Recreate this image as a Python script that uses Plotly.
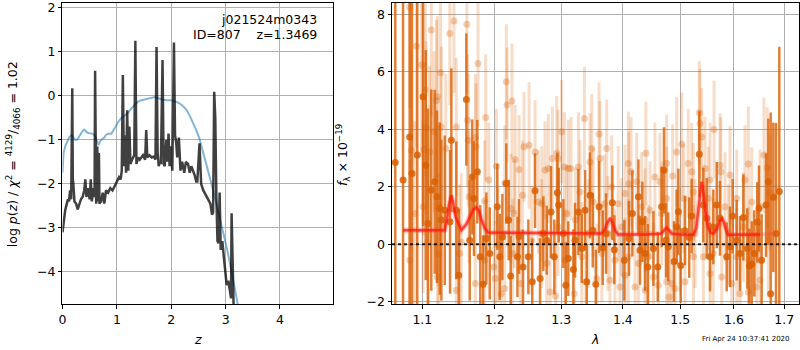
import math
import plotly.graph_objects as go

FONT = "DejaVu Sans"

# ---- left panel: redshift probability ----
z_pz = [0.00, 0.02, 0.05, 0.08, 0.10, 0.12, 0.14, 0.16, 0.17, 0.18, 0.19, 0.20, 0.22, 0.25,
        0.28, 0.31, 0.34, 0.37, 0.40, 0.42, 0.44, 0.47, 0.50, 0.52, 0.54, 0.57, 0.59, 0.60,
        0.61, 0.62, 0.64, 0.65, 0.67, 0.68, 0.71, 0.74, 0.77, 0.80, 0.84, 0.88, 0.92, 0.96,
        1.00, 1.04, 1.07, 1.09, 1.11, 1.13, 1.15, 1.17, 1.19, 1.21, 1.23, 1.25, 1.28, 1.30,
        1.32, 1.34, 1.36, 1.39, 1.42, 1.45, 1.48, 1.52, 1.54, 1.56, 1.60, 1.64, 1.68, 1.71,
        1.73, 1.75, 1.77, 1.79, 1.81, 1.84, 1.86, 1.88, 1.91, 1.93, 1.95, 1.97, 1.99, 2.02,
        2.05, 2.07, 2.09, 2.11, 2.14, 2.17, 2.20, 2.24, 2.27, 2.31, 2.34, 2.37, 2.40, 2.43,
        2.46, 2.48, 2.52, 2.55, 2.59, 2.63, 2.68, 2.72, 2.75, 2.77, 2.79, 2.81, 2.83, 2.85,
        2.87, 2.89, 2.91, 2.94, 2.97, 3.00, 3.02, 3.05, 3.08, 3.10, 3.11, 3.13, 3.16]
logp_pz = [-3.10, -2.85, -2.60, -2.45, -2.35, -2.40, -2.15, -2.35, -1.20, 0.17, -1.90, -2.00,
           -2.40, -2.45, -2.58, -2.45, -2.35, -2.30, -2.15, -1.90, -2.30, -2.10, -2.35, -1.90,
           -2.40, -2.10, -2.30, 0.57, -1.20, -2.45, -1.15, -2.40, -1.30, -2.45, -2.40, -2.20,
           -2.45, -2.15, -2.20, -2.10, -2.15, -2.05, -1.95, -1.85, -1.90, -1.70, 0.47, -1.60,
           -0.90, -1.75, -0.33, -1.70, -0.70, -1.55, -1.45, -1.40, -1.35, 1.25, -1.55, -1.40,
           -1.45, -1.40, -1.35, -1.45, -0.78, -1.40, -1.35, -1.40, -1.38, -1.45, 1.11, -1.30,
           -1.60, -1.50, -1.55, 0.81, -1.55, -1.60, -1.00, -1.50, -0.86, -1.60, -1.15, -1.70,
           1.21, -0.90, -1.05, -1.40, -0.95, -1.70, -1.50, -1.75, -1.50, -1.55, -1.75, -1.60,
           -1.70, -1.80, -1.95, -1.95, -1.08, -2.00, -2.15, -2.25, -2.35, -2.45, -2.70, -2.65,
           0.09, -0.50, -2.30, -3.30, -3.35, -2.20, -3.50, -3.30, -3.70, -4.00, -4.30, -4.20,
           -4.45, -4.60, -2.67, -4.90, -5.50]

z_prior = [0.00, 0.02, 0.05, 0.08, 0.12, 0.17, 0.20, 0.23, 0.27, 0.30, 0.33, 0.37, 0.40, 0.43,
           0.46, 0.50, 0.55, 0.59, 0.62, 0.66, 0.69, 0.73, 0.77, 0.80, 0.84, 0.90, 0.96, 1.02,
           1.08, 1.14, 1.20, 1.27, 1.33, 1.39, 1.45, 1.51, 1.57, 1.63, 1.70, 1.75, 1.80, 1.85,
           1.92, 2.00, 2.08, 2.15, 2.22, 2.28, 2.34, 2.40, 2.46, 2.52, 2.57, 2.63, 2.68, 2.74,
           2.84, 2.94, 3.03, 3.11, 3.23, 3.28]
logp_prior = [-1.75, -1.30, -1.15, -1.05, -0.95, -0.89, -0.95, -1.00, -1.00, -0.93, -0.86,
              -0.80, -0.77, -0.81, -0.84, -0.85, -0.86, -0.89, -0.98, -1.12, -1.04, -0.98,
              -0.95, -0.89, -0.86, -0.86, -0.74, -0.60, -0.51, -0.46, -0.40, -0.28, -0.20,
              -0.13, -0.10, -0.08, -0.06, -0.05, -0.03, -0.05, -0.07, -0.09, -0.10, -0.10,
              -0.13, -0.17, -0.24, -0.32, -0.45, -0.60, -0.78, -0.98, -1.20, -1.48, -1.72,
              -2.00, -2.50, -3.00, -3.50, -4.00, -4.75, -5.10]

z_ticks = [0, 1, 2, 3, 4]
logp_ticks = [-4, -3, -2, -1, 0, 1, 2]

# ---- right panel: 1D spectrum ----
lam_main = [1.0648, 1.0748, 1.0834, 1.0864, 1.0933, 1.1009, 1.1045, 1.1075, 1.1119, 1.1165,
            1.1196, 1.1233, 1.1255, 1.1301, 1.1373, 1.1391, 1.1459, 1.1492, 1.1598, 1.1645,
            1.1681, 1.1705, 1.1752, 1.1794, 1.1833, 1.1880, 1.1929, 1.2038, 1.2073, 1.2111,
            1.2169, 1.2204, 1.2233, 1.2333, 1.2357, 1.2416, 1.2496, 1.2555, 1.2597, 1.2673,
            1.2723, 1.2775, 1.2841, 1.2892, 1.2940, 1.2960, 1.3033, 1.3071, 1.3111, 1.3191,
            1.3217, 1.3271, 1.3325, 1.3378, 1.3405, 1.3458, 1.3502, 1.3552, 1.3605, 1.3665,
            1.3720, 1.3824, 1.3857, 1.4025, 1.4104, 1.4161, 1.4264, 1.4292, 1.4332, 1.4379,
            1.4426, 1.4524, 1.4601, 1.4669, 1.4710, 1.4745, 1.4786, 1.4888, 1.4936, 1.4966,
            1.5008, 1.5086, 1.5163, 1.5207, 1.5348, 1.5423, 1.5485, 1.5547, 1.5609, 1.5673,
            1.5735, 1.5862, 1.5925, 1.5976, 1.6054, 1.6118, 1.6183, 1.6260, 1.6299, 1.6346,
            1.6397, 1.6456, 1.6490, 1.6543, 1.6630, 1.6676, 1.6724, 1.6777, 1.6831, 1.6898]
flux_main = [2.84, 2.23, 3.73, 2.46, 3.10, 5.13, 2.75, 0.72, 1.88, 2.17,
             1.65, 1.24, 0.84, 1.18, 0.78, 3.62, 1.18, -1.08, 5.03, 0.14,
             2.34, 1.59, 2.52, -0.44, -1.39, 0.20, -0.32, 1.30, -0.44, 0.25,
             2.11, 0.84, -1.11, -0.44, 0.27, -0.79, -0.44, -1.31, 1.86, -1.19,
             0.37, 0.14, 1.12, -0.44, 1.79, 1.36, 0.37, -1.43, -0.50, -0.88,
             0.14, 1.12, -0.15, 1.18, -1.31, 1.70, 0.49, -1.39, 1.30, -0.12,
             0.37, 1.44, -0.19, -0.56, 0.20, 1.07, 1.65, -0.21, 0.78, -0.32,
             -0.79, -0.15, -0.79, 1.30, 2.57, 0.14, -0.09, -0.60, 0.60, 1.13,
             -0.74, 0.47, 0.23, 0.98, 3.13, 1.36, 0.90, -0.44, 0.60, 1.36,
             0.90, -0.44, -0.09, 0.98, 0.14, -0.32, 0.93, -0.15, -0.76, -0.70,
             -0.32, 0.76, 1.24, -0.56, 1.36, 2.17, -1.72, 1.63, 0.37, 1.83]
err_main = [9.0, 9.0, 6.0, 6.5, 5.5, 4.5, 4.0, 4.0, 3.5, 3.2,
            3.0, 3.0, 2.8, 2.6, 2.5, 2.5, 2.4, 2.3, 2.3, 2.1,
            2.0, 2.0, 1.8, 1.8, 1.7, 1.6, 1.6, 1.5, 1.5, 1.5,
            1.4, 1.4, 1.4, 1.4, 1.3, 1.3, 1.3, 1.5, 1.3, 1.4,
            1.3, 1.2, 1.6, 1.3, 1.4, 1.3, 1.2, 1.5, 1.3, 1.4,
            1.3, 1.5, 1.2, 1.4, 1.3, 1.5, 1.3, 1.2, 1.6, 1.3,
            1.4, 1.3, 1.2, 1.4, 1.3, 1.5, 1.3, 1.2, 1.4, 1.3,
            1.5, 1.3, 1.2, 1.4, 1.5, 1.3, 1.2, 1.4, 1.3, 1.5,
            1.3, 1.2, 1.4, 1.3, 1.5, 1.3, 1.4, 1.2, 1.3, 1.5,
            1.3, 1.2, 1.4, 1.3, 1.4, 1.3, 1.5, 1.4, 1.3, 1.5,
            1.5, 1.4, 1.5, 1.6, 1.8, 2.2, 6.3, 2.6, 3.85, 5.04]

lam_alt = [1.0834, 1.0922, 1.1119, 1.1427, 1.1605, 1.1369, 1.1040, 1.0987, 1.1200, 1.1190,
           1.1244, 1.1762, 1.1871, 1.2169, 1.2180, 1.2252, 1.1615, 1.1459, 1.1625, 1.1255,
           1.1098, 1.1315, 1.1156, 1.1050, 1.1724, 1.1735, 1.2024, 1.2299, 1.2357, 1.2407,
           1.2146, 1.1915, 1.1009, 1.1209, 1.1218, 1.1200, 1.1075, 1.0899, 1.0834, 1.0855,
           1.1020, 1.1459, 1.1505, 1.1527, 1.1724, 1.1857, 1.2009, 1.2096, 1.2146, 1.2381,
           1.2262, 1.1990, 1.2048, 1.2285, 1.2237, 1.1857, 1.1637, 1.2431, 1.2507, 1.2597,
           1.2749, 1.2799, 1.2862, 1.2930, 1.2950, 1.3007, 1.3049, 1.3111, 1.3154, 1.3271,
           1.3367, 1.3458, 1.3486, 1.3605, 1.3620, 1.3731, 1.4092, 1.4138, 1.4235, 1.4393,
           1.4551, 1.4640, 1.2648, 1.2700, 1.3086, 1.3297, 1.3511, 1.3693, 1.3813, 1.3922,
           1.4036, 1.4100, 1.4320, 1.4465, 1.4669, 1.2546, 1.2775, 1.2826, 1.2913, 1.3205,
           1.3391, 1.3568, 1.3785, 1.3952, 1.4036, 1.4207, 1.4379, 1.4524, 1.4610, 1.3060,
           1.3325, 1.3650, 1.3867, 1.4092, 1.4264, 1.4436, 1.3430, 1.3979, 1.4379, 1.2698,
           1.2950, 1.3225, 1.3750, 1.5027, 1.4936, 1.4757, 1.4864, 1.5145, 1.5207, 1.5348,
           1.5360, 1.5392, 1.5454, 1.5547, 1.5622, 1.5735, 1.5750, 1.5925, 1.6215, 1.6280,
           1.6589, 1.6655, 1.6710, 1.4757, 1.5066, 1.5237, 1.5516, 1.5830, 1.6054, 1.6346,
           1.6510, 1.4757, 1.4847, 1.4907, 1.4800, 1.5086, 1.5547, 1.5423, 1.5767, 1.5957,
           1.6118, 1.6280, 1.6444, 1.6510, 1.5240, 1.5609, 1.6054, 1.6290, 1.4996, 1.5270,
           1.5895, 1.6183, 1.6676]
flux_alt = [8.24, 6.89, 7.45, 7.76, 7.65, 7.33, 5.38, 6.23, 5.13, 5.00,
            5.96, 6.29, 4.41, 5.65, 4.84, 4.98, 4.31, 4.08, 3.62, 4.08,
            3.21, 3.33, 3.91, 4.06, 3.71, 3.39, 2.71, 2.95, 2.60, 1.70,
            2.13, 2.23, 1.30, 1.36, -0.32, -1.14, 0.08, 1.07, -0.56, 3.27,
            3.30, -1.60, -0.32, 0.07, -1.37, -0.56, -1.19, -1.72, -1.54, -1.37,
            -0.32, -0.79, -0.03, 1.07, 1.24, 1.51, 1.65, 3.39, 3.44, 3.21,
            2.57, 2.63, 2.98, 3.16, 2.98, 3.91, 2.69, 2.63, 2.63, 2.69,
            4.37, 2.86, 3.33, 3.83, 2.98, 3.33, 2.81, 2.52, 2.17, 3.16,
            2.34, 2.17, 1.47, 1.41, 1.07, 1.82, 1.47, 1.41, 1.99, 1.41,
            1.76, 2.10, 1.30, 1.18, 1.07, 0.14, -0.67, -1.66, -1.81, -1.72,
            -1.31, -1.19, -1.25, -1.49, -1.08, -1.49, -1.60, -1.14, -1.43, -0.56,
            -0.44, -0.32, -0.56, -0.44, -0.67, -0.44, 0.37, 0.60, 0.84, 0.37,
            0.60, 0.84, 0.37, 3.48, 3.21, 2.81, 2.37, 2.81, 2.52, 4.57,
            4.20, 3.73, 2.63, 2.23, 3.99, 2.75, 2.52, 2.41, 2.23, 2.79,
            3.10, 2.66, 1.79, 1.59, 1.59, 1.82, 1.59, 1.30, 1.59, 1.47,
            1.30, -1.31, -1.37, -1.54, -1.84, -1.31, -1.02, -0.44, -1.14, -1.37,
            -1.72, -1.66, -1.49, -1.25, -0.44, -0.32, -0.44, -0.56, 0.14, 0.37,
            0.37, 0.60, 0.14]
err_alt = [3.5, 3.5, 3.0, 2.5, 2.4, 2.5, 3.0, 3.2, 2.8, 2.8,
           2.8, 2.2, 2.2, 2.0, 2.0, 2.0, 2.3, 2.4, 2.3, 2.8,
           3.0, 2.6, 2.8, 3.0, 2.2, 2.2, 2.0, 1.9, 1.9, 1.9,
           2.0, 2.0, 3.0, 2.8, 2.8, 2.8, 3.0, 3.2, 3.5, 3.5,
           3.0, 2.4, 2.4, 2.4, 2.2, 2.1, 2.0, 2.0, 2.0, 1.9,
           1.9, 2.0, 2.0, 1.9, 1.9, 2.1, 2.3, 1.9, 2.2, 1.8,
           1.7, 1.9, 1.8, 2.0, 1.7, 1.8, 1.9, 1.7, 1.8, 1.9,
           1.8, 1.7, 1.9, 1.8, 2.0, 1.7, 1.8, 1.9, 1.7, 1.8,
           1.9, 1.7, 1.8, 2.0, 1.7, 1.8, 1.9, 1.7, 1.8, 2.0,
           1.7, 1.8, 1.9, 1.7, 1.8, 1.9, 1.7, 1.8, 1.9, 1.7,
           1.8, 1.9, 1.7, 1.8, 2.0, 1.7, 1.8, 1.9, 1.7, 1.8,
           1.9, 1.7, 1.8, 2.0, 1.7, 1.8, 1.9, 1.7, 1.8, 1.9,
           1.7, 1.8, 2.0, 1.8, 1.9, 1.7, 1.8, 1.9, 1.7, 1.8,
           1.9, 1.7, 1.8, 2.0, 1.7, 1.8, 1.9, 1.7, 1.9, 2.0,
           2.0, 2.1, 2.0, 1.8, 1.9, 1.7, 1.8, 1.9, 1.7, 1.9,
           2.0, 1.8, 1.9, 1.7, 1.8, 1.9, 1.7, 1.8, 1.9, 1.7,
           1.9, 2.0, 2.0, 2.0, 1.8, 1.9, 1.7, 1.9, 1.8, 1.9,
           1.7, 1.9, 2.0]

# best-fit model (continuum + emission lines)
lam_model = [1.0748, 1.1300, 1.1330, 1.1360, 1.1390, 1.1420, 1.1450, 1.1528, 1.1600, 1.1660,
             1.1700, 1.1738, 1.1775, 1.1810, 1.1860, 1.1904, 1.2500, 1.3000, 1.3650, 1.3700,
             1.3750, 1.3786, 1.3820, 1.3870, 1.3923, 1.4400, 1.4660, 1.4720, 1.4757, 1.4800,
             1.4847, 1.5000, 1.5237, 1.5290, 1.5340, 1.5375, 1.5392, 1.5420, 1.5460, 1.5510,
             1.5560, 1.5609, 1.5680, 1.5730, 1.5767, 1.5805, 1.5850, 1.5893, 1.6200, 1.6510]
flux_model = [0.49, 0.49, 0.85, 1.40, 1.70, 1.40, 0.95, 0.49, 0.70, 1.05,
              1.22, 1.28, 1.15, 0.85, 0.55, 0.41, 0.39, 0.38, 0.37, 0.52,
              0.78, 0.89, 0.78, 0.48, 0.34, 0.34, 0.37, 0.50, 0.57, 0.48,
              0.37, 0.34, 0.33, 0.55, 1.30, 2.00, 2.17, 1.85, 1.15, 0.60,
              0.40, 0.37, 0.55, 0.82, 0.89, 0.78, 0.48, 0.33, 0.33, 0.34]
lam_model_tail = [1.6510, 1.6831]
flux_model_tail = [0.34, 0.36]

lam_ticks = [1.1, 1.2, 1.3, 1.4, 1.5, 1.6, 1.7]
flux_ticks = [-2, 0, 2, 4, 6, 8]

ORANGE = "217,95,2"

fig = go.Figure()

# p(z) curves
fig.add_trace(go.Scatter(x=z_prior, y=logp_prior, mode="lines",
                         line=dict(color="rgba(31,119,180,0.55)", width=2),
                         xaxis="x", yaxis="y", hoverinfo="skip"))
fig.add_trace(go.Scatter(x=z_pz, y=logp_pz, mode="lines",
                         line=dict(color="rgba(0,0,0,0.75)", width=2.5),
                         xaxis="x", yaxis="y", hoverinfo="skip"))

# spectrum: second grism (faint), main grism, model
fig.add_trace(go.Scatter(x=lam_alt, y=flux_alt, mode="markers",
                         marker=dict(color=f"rgba({ORANGE},0.3)", size=7, line=dict(width=0)),
                         error_y=dict(type="data", array=err_alt, color=f"rgba({ORANGE},0.22)",
                                      thickness=3, width=0),
                         xaxis="x2", yaxis="y2", hoverinfo="skip"))
fig.add_trace(go.Scatter(x=lam_main, y=flux_main, mode="markers",
                         marker=dict(color=f"rgba({ORANGE},0.85)", size=7, line=dict(width=0)),
                         error_y=dict(type="data", array=err_main, color=f"rgba({ORANGE},0.8)",
                                      thickness=2.5, width=0),
                         xaxis="x2", yaxis="y2", hoverinfo="skip"))
fig.add_trace(go.Scatter(x=lam_model, y=flux_model, mode="lines",
                         line=dict(color="rgba(255,60,60,0.35)", width=5),
                         xaxis="x2", yaxis="y2", hoverinfo="skip"))
fig.add_trace(go.Scatter(x=lam_model, y=flux_model, mode="lines",
                         line=dict(color="rgba(255,20,0,0.7)", width=2.5),
                         xaxis="x2", yaxis="y2", hoverinfo="skip"))
fig.add_trace(go.Scatter(x=lam_model_tail, y=flux_model_tail, mode="lines",
                         line=dict(color="rgba(255,60,60,0.3)", width=3.5),
                         xaxis="x2", yaxis="y2", hoverinfo="skip"))

axis_common = dict(showgrid=True, gridcolor="#b0b0b0", gridwidth=1, zeroline=False,
                   showline=True, linecolor="black", linewidth=1, mirror=True,
                   ticks="outside", ticklen=3.5, tickwidth=1, tickcolor="black",
                   automargin=False,
                   tickfont=dict(family=FONT, size=12.5, color="black"))

ydom = [0.1314, 0.9914]
fig.update_layout(
    width=800, height=350,
    margin=dict(l=0, r=0, t=0, b=0, autoexpand=False),
    paper_bgcolor="white", plot_bgcolor="white",
    showlegend=False,
    font=dict(family=FONT, color="black"),
    xaxis=dict(domain=[0.0781, 0.4166], range=[0, 4.98], tickvals=z_ticks,
               anchor="y", **axis_common),
    yaxis=dict(domain=ydom, range=[-4.73, 2.107], tickvals=logp_ticks,
               anchor="x", **axis_common),
    xaxis2=dict(domain=[0.49, 0.99875], type="log",
                range=[math.log10(1.0606), math.log10(1.7303)],
                tickvals=lam_ticks, ticktext=[f"{v:.1f}" for v in lam_ticks],
                anchor="y2", **axis_common),
    yaxis2=dict(domain=ydom, range=[-2.08, 8.39], tickvals=flux_ticks,
                anchor="x2", **axis_common),
)

# zero level of the spectrum
fig.add_shape(type="line", xref="x2 domain", yref="y2", x0=0, x1=1, y0=0, y1=0,
              line=dict(color="rgba(0,0,0,0.85)", width=2, dash="dot"), layer="above")

ann = dict(showarrow=False, xref="paper", yref="paper", font=dict(family=FONT, size=12.5, color="black"))
fig.add_annotation(text="<i>z</i>", x=0.2469, y=0.0286, xanchor="center", yanchor="middle", **ann)
fig.add_annotation(text="<i>λ</i>", x=0.7435, y=0.0286, xanchor="center", yanchor="middle", **ann)
fig.add_annotation(text="log <i>p</i>(<i>z</i>) / <i>χ</i><sup>2</sup> = "
                        "<sup>4129</sup>/<sub>4066</sub> = 1.02",
                   x=0.0165, y=0.56, textangle=-90, xanchor="center", yanchor="middle", **ann)
fig.add_annotation(text="<i>f</i><sub>λ</sub> × 10<sup>−19</sup>",
                   x=0.4288, y=0.557, textangle=-90, xanchor="center", yanchor="middle", **ann)
fig.add_annotation(text="j021524m0343", x=0.399, y=0.943, xanchor="right", yanchor="middle", **ann)
fig.add_annotation(text="ID=807\u00a0\u00a0\u00a0\u00a0z=1.3469", x=0.399, y=0.902,
                   xanchor="right", yanchor="middle", **ann)
fig.add_annotation(text="Fri Apr 24 10:37:41 2020", x=0.9325, y=0.031,
                   xanchor="center", yanchor="middle", showarrow=False, xref="paper", yref="paper",
                   font=dict(family=FONT, size=7, color="black"))

fig.write_html("out.html")
